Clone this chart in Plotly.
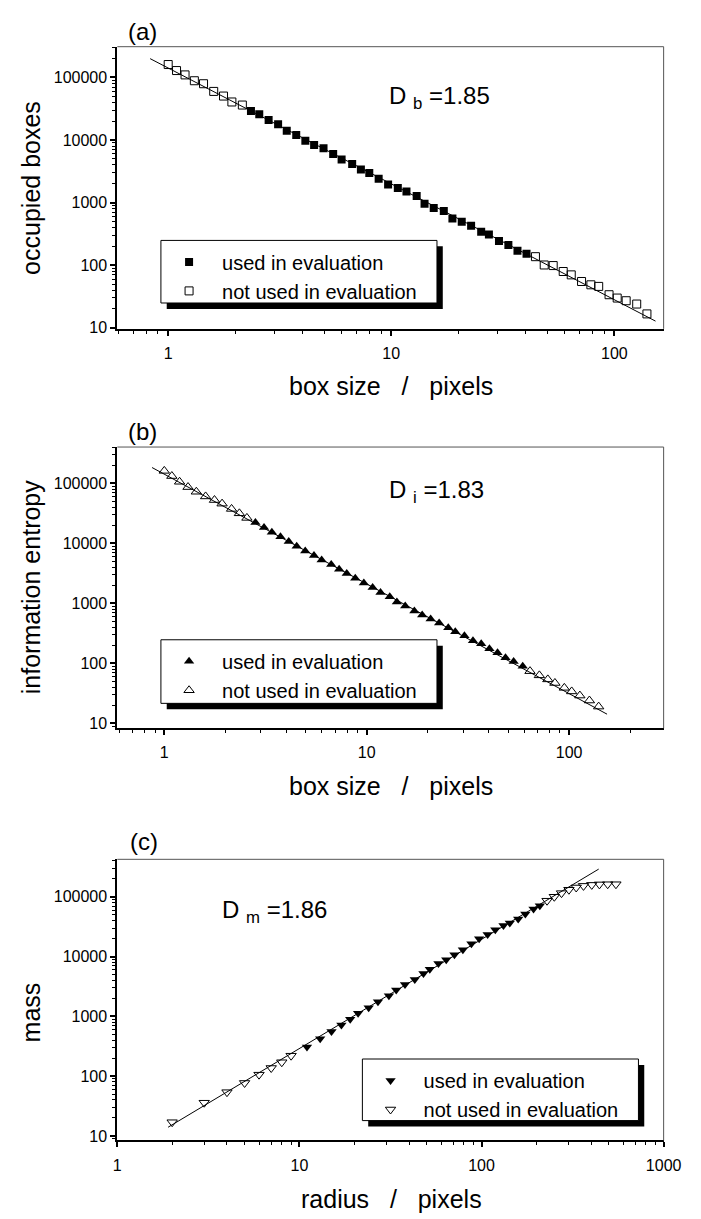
import plotly.graph_objects as go

W, H = 701, 1219
FONT = "Liberation Sans, Arial, Helvetica, sans-serif"

# ---------------- data ----------------
box_size = [1.00, 1.09, 1.19, 1.31, 1.44, 1.60, 1.77, 1.93, 2.15, 2.35,
            2.56, 2.82, 3.11, 3.40, 3.75, 4.12, 4.51, 4.97, 5.49, 5.99,
            6.68, 7.31, 7.97, 8.78, 9.68, 10.7, 11.7, 13.0, 14.1, 15.5,
            17.2, 18.8, 20.7, 22.8, 25.3, 27.4, 30.4, 33.5, 36.8, 40.4,
            44.3, 48.5, 53.2, 59.0, 64.1, 71.3, 78.5, 85.1, 94.7, 103,
            113, 126, 140]

occupied_boxes = [161000, 129000, 110000, 88700, 79500, 59900, 50500, 40600, 36300, 29200,
                  25900, 21000, 17900, 14100, 12100, 9750, 8330, 7380, 6000, 4870,
                  4160, 3380, 2990, 2400, 1950, 1710, 1510, 1280, 964, 824,
                  738, 557, 494, 427, 343, 311, 243, 210, 171, 153,
                  137, 101, 98.8, 79.4, 70.2, 55.0, 48.7, 45.9, 33.8, 29.9,
                  27.1, 24.0, 16.7]

info_entropy = [161000, 132000, 106000, 86500, 72300, 60400, 52600, 45800, 37400, 31600,
                26500, 22200, 18300, 15300, 12800, 10700, 8890, 7430, 6240, 5270,
                4430, 3700, 3140, 2620, 2190, 1840, 1520, 1290, 1052, 902,
                746, 640, 550, 472, 390, 335, 288, 238, 212, 175,
                150, 124, 107, 89, 74, 63, 54, 47, 39, 34,
                29, 24, 19]

radius = [2, 3, 4, 5, 6, 7, 8, 9, 11, 13,
          15, 17, 19, 21, 24, 27, 31, 34, 38, 43,
          48, 52, 58, 64, 71, 79, 88, 97, 108, 119,
          132, 143, 159, 174, 193, 209, 229, 251, 275, 302,
          331, 363, 403, 444, 493, 547]

mass = [17, 36, 54, 77, 106, 137, 171, 220, 307, 422,
        559, 719, 895, 1125, 1400, 1762, 2217, 2750, 3410, 4130,
        5200, 6120, 7620, 8880, 10760, 13030, 16400, 19800, 23400, 28000,
        33000, 36500, 42600, 51600, 62500, 70900, 85900, 100000, 115000, 131000,
        143000, 152000, 158000, 161000, 162000, 162000]

# index window (start, stop) of the points used in the evaluation
used_a = (9, 40)
used_b = (11, 44)
used_c = (8, 36)

# end points of the fitted straight lines
fit_a_x, fit_a_y = [0.83, 153], [200000, 12.8]
fit_b_x, fit_b_y = [0.87, 154], [183000, 14.2]
fit_c_x, fit_c_y = [1.9, 440], [14, 290000]

dims = ["1.85", "1.83", "1.86"]

# ---------------- figure ----------------
fig = go.Figure()


def px_x(X):
    return X / W


def px_y(Y):
    return 1 - Y / H


panels = [
    dict(x=box_size, y=occupied_boxes, used=used_a, fx=fit_a_x, fy=fit_a_y,
         sym="square", msize=8, xa="x", ya="y", leg="legend",
         top=47, bottom=331, xr=[-0.228, 2.221], yr=[0.984, 5.492],
         ytitle="occupied boxes", ytitle_y=189, xtitle="box size   /   pixels", xtitle_y=389,
         label="(a)", label_pos=(143, 32), dname="b", dval=dims[0], dpos=(395, 98),
         legbox=(162, 242, 447, 305)),
    dict(x=box_size, y=info_entropy, used=used_b, fx=fit_b_x, fy=fit_b_y,
         sym="triangle-up", msize=9, xa="x2", ya="y2", leg="legend2",
         top=450, bottom=733, xr=[-0.232, 2.467], yr=[0.919, 5.604],
         ytitle="information entropy", ytitle_y=591, xtitle="box size   /   pixels", xtitle_y=791,
         label="(b)", label_pos=(143, 434), dname="i", dval=dims[1], dpos=(395, 495),
         legbox=(162, 644, 447, 708)),
    dict(x=radius, y=mass, used=used_c, fx=fit_c_x, fy=fit_c_y,
         sym="triangle-down", msize=9, xa="x3", ya="y3", leg="legend3",
         top=865, bottom=1148, xr=[0, 3], yr=[0.925, 5.626],
         ytitle="mass", ytitle_y=1019, xtitle="radius   /   pixels", xtitle_y=1207,
         label="(c)", label_pos=(145, 847), dname="m", dval=dims[2], dpos=(223, 918),
         legbox=(370, 1066, 655, 1128)),
]

annotations = []
shapes = []
axis_common = dict(
    type="log", showline=True, linecolor="black", linewidth=2,
    ticks="outside", ticklen=5, tickwidth=1.5, tickcolor="black",
    showgrid=False, zeroline=False, dtick=1, tickformat="d",
    tickfont=dict(family=FONT, size=16, color="black"),
    minor=dict(ticks="outside", ticklen=3, tickwidth=1, tickcolor="black",
               dtick="D1", showgrid=False),
)

for i, p in enumerate(panels):
    s, e = p["used"]
    xs, ys = p["x"], p["y"]
    used_x, used_y = xs[s:e], ys[s:e]
    free_x, free_y = xs[:s] + xs[e:], ys[:s] + ys[e:]

    fig.add_trace(go.Scatter(x=p["fx"], y=p["fy"], mode="lines",
                             line=dict(color="black", width=1),
                             xaxis=p["xa"], yaxis=p["ya"], showlegend=False,
                             hoverinfo="skip"))
    fig.add_trace(go.Scatter(x=used_x, y=used_y, mode="markers",
                             name="used in evaluation",
                             marker=dict(symbol=p["sym"], size=p["msize"], color="black"),
                             xaxis=p["xa"], yaxis=p["ya"], legend=p["leg"]))
    fig.add_trace(go.Scatter(x=free_x, y=free_y, mode="markers",
                             name="not used in evaluation",
                             marker=dict(symbol=p["sym"] + "-open", size=p["msize"],
                                         color="black", line=dict(width=1)),
                             xaxis=p["xa"], yaxis=p["ya"], legend=p["leg"]))

    xkey = "xaxis" if i == 0 else f"xaxis{i + 1}"
    ykey = "yaxis" if i == 0 else f"yaxis{i + 1}"
    fig.update_layout(**{
        xkey: dict(axis_common, domain=[px_x(117), px_x(681)], range=p["xr"],
                   anchor=p["ya"], ticklabelstandoff=4),
        ykey: dict(axis_common, domain=[px_y(p["bottom"]), px_y(p["top"])],
                   range=p["yr"], anchor=p["xa"]),
    })

    xd = p["xa"] + " domain"
    yd = p["ya"] + " domain"
    # thin top and right frame lines
    shapes.append(dict(type="line", xref=xd, yref=yd, x0=0, x1=1, y0=1, y1=1,
                       line=dict(color="#555555", width=1)))
    shapes.append(dict(type="line", xref=xd, yref=yd, x0=1, x1=1, y0=0, y1=1,
                       line=dict(color="#555555", width=1)))

    # legend box with drop shadow
    bx0, by0, bx1, by1 = p["legbox"]
    shapes.append(dict(type="rect", xref="paper", yref="paper",
                       x0=px_x(bx0 + 6), x1=px_x(bx1 + 6), y0=px_y(by0 + 6), y1=px_y(by1 + 6),
                       fillcolor="black", line=dict(width=0)))
    shapes.append(dict(type="rect", xref="paper", yref="paper",
                       x0=px_x(bx0), x1=px_x(bx1), y0=px_y(by0), y1=px_y(by1),
                       fillcolor="white", line=dict(color="black", width=1)))

    leg_layout = dict(x=px_x(bx0 - 5), y=px_y(by0 + 2), xanchor="left", yanchor="top",
                      bgcolor="rgba(0,0,0,0)", borderwidth=0, itemwidth=56,
                      font=dict(family=FONT, size=20, color="black"),
                      tracegroupgap=0)
    fig.update_layout(**{p["leg"]: leg_layout})

    lx, ly = p["label_pos"]
    annotations.append(dict(text=p["label"], x=px_x(lx), y=px_y(ly), xref="paper", yref="paper",
                            showarrow=False, xanchor="center", yanchor="middle",
                            font=dict(family=FONT, size=24, color="black")))
    dx, dy = p["dpos"]
    annotations.append(dict(text=f"D <sub>{p['dname']}</sub> ={p['dval']}",
                            x=px_x(dx), y=px_y(dy), xref="paper", yref="paper",
                            showarrow=False, xanchor="left", yanchor="middle",
                            font=dict(family=FONT, size=24, color="black")))
    annotations.append(dict(text=p["ytitle"], x=px_x(28), y=px_y(p["ytitle_y"]),
                            xref="paper", yref="paper", textangle=-90,
                            showarrow=False, xanchor="center", yanchor="middle",
                            font=dict(family=FONT, size=25, color="black")))
    annotations.append(dict(text=p["xtitle"], x=px_x(400), y=px_y(p["xtitle_y"]),
                            xref="paper", yref="paper",
                            showarrow=False, xanchor="center", yanchor="middle",
                            font=dict(family=FONT, size=25, color="black")))

fig.update_layout(
    width=W, height=H,
    margin=dict(l=0, r=0, t=0, b=0),
    paper_bgcolor="white", plot_bgcolor="white",
    font=dict(family=FONT, color="black"),
    annotations=annotations, shapes=shapes,
)

fig.write_html("out.html")
